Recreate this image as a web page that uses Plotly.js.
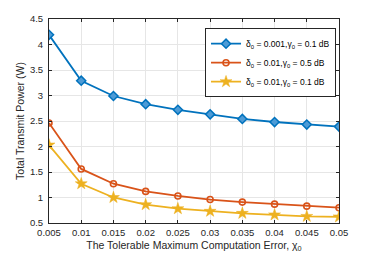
<!DOCTYPE html>
<html><head><meta charset="utf-8">
<script src="https://cdn.plot.ly/plotly-3.0.1.min.js"></script>
<style>html,body{margin:0;padding:0;background:#fff}#c{width:374px;height:256px}</style>
</head><body><div id="c"></div>
<script>
const chi0 = [0.005,0.01,0.015,0.02,0.025,0.03,0.035,0.04,0.045,0.05];
const powerA = [4.19,3.29,2.99,2.83,2.72,2.63,2.54,2.48,2.43,2.39];
const powerB = [2.46,1.56,1.27,1.12,1.03,0.96,0.91,0.87,0.83,0.80];
const powerC = [2.03,1.27,1.00,0.86,0.78,0.73,0.69,0.66,0.63,0.62];
const names = ["δ<sub>0</sub> = 0.001,γ<sub>0</sub> = 0.1 dB","δ<sub>0</sub> = 0.01,γ<sub>0</sub> = 0.5 dB","δ<sub>0</sub> = 0.01,γ<sub>0</sub> = 0.1 dB"];
const xTicks = [0.005,0.01,0.015,0.02,0.025,0.03,0.035,0.04,0.045,0.05];
const xTickText = ["0.005","0.01","0.015","0.02","0.025","0.03","0.035","0.04","0.045","0.05"];
const yTicks = [0.5,1,1.5,2,2.5,3,3.5,4,4.5];
const yTickText = ["0.5","1","1.5","2","2.5","3","3.5","4","4.5"];

const traces = [
 {x:chi0,y:powerA,name:names[0],mode:'lines+markers',line:{color:'#0072BD',width:1.8},marker:{symbol:'diamond',size:7,color:'#4d9bd6',line:{width:1.5,color:'#0072BD'}}},
 {x:chi0,y:powerB,name:names[1],mode:'lines+markers',line:{color:'#D95319',width:1.8},marker:{symbol:'circle-open',size:6,color:'#D95319',line:{width:1.6}}},
 {x:chi0,y:powerC,name:names[2],mode:'lines+markers',line:{color:'#EDB120',width:1.8},marker:{symbol:'star',size:9,color:'#EDB120',line:{width:0.5,color:'#EDB120'}}}
];
const axisCommon = {showline:true,mirror:'ticks',linecolor:'#262626',linewidth:1,ticks:'inside',ticklen:3,tickcolor:'#262626',
  showgrid:true,gridcolor:'#e6e6e6',gridwidth:1,zeroline:false,tickfont:{family:'Liberation Sans, Arial, sans-serif',size:9.5,color:'#262626'}};
const layout = {
 width:374,height:256,margin:{l:49,r:35,t:19,b:33},paper_bgcolor:'#fff',plot_bgcolor:'#fff',
 xaxis:Object.assign({},axisCommon,{range:[0.005,0.05],tickvals:xTicks,ticktext:xTickText,ticklabelstandoff:1,
   title:{text:'The Tolerable Maximum Computation Error, χ<sub>0</sub>',font:{family:'Liberation Sans, Arial, sans-serif',size:10.5,color:'#262626'},standoff:4}}),
 yaxis:Object.assign({},axisCommon,{range:[0.5,4.5],tickvals:yTicks,ticktext:yTickText,ticklabelstandoff:3,
   title:{text:'Total Transmit Power (W)',font:{family:'Liberation Sans, Arial, sans-serif',size:10.5,color:'#262626'},standoff:3}}),
 legend:{x:0.538,y:0.955,xanchor:'left',yanchor:'top',bgcolor:'#fff',bordercolor:'#262626',borderwidth:1,
   font:{family:'Liberation Sans, Arial, sans-serif',size:8.5,color:'#000'},tracegroupgap:0,itemwidth:30},
 showlegend:true
};
Plotly.newPlot('c',traces,layout,{displayModeBar:false,staticPlot:true});
</script></body></html>
